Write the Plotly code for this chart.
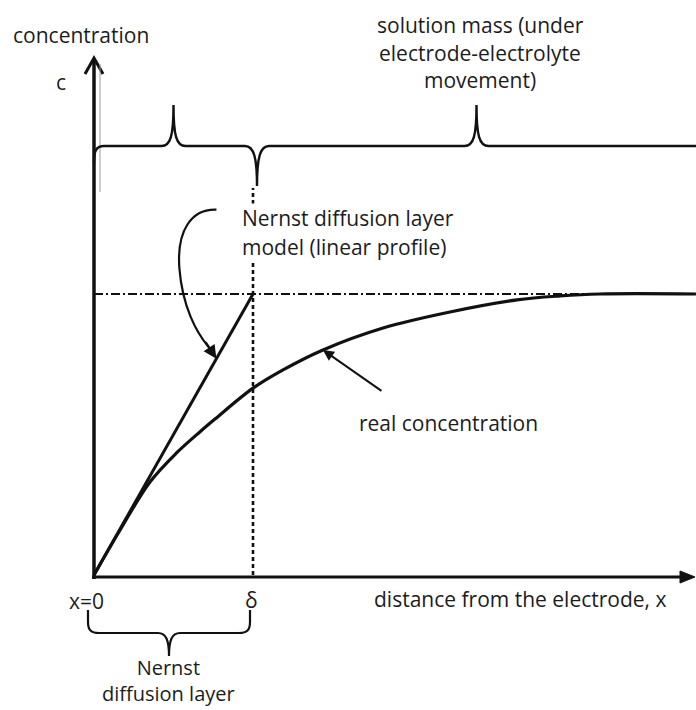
import plotly.graph_objects as go

# ---------------- data ----------------
distance = [0.0, 0.164, 0.352, 0.522, 0.667, 0.761, 1.0, 1.189, 1.44, 1.818, 2.239, 2.66, 2.931, 3.182, 3.786]
real_conc = [0.0, 0.160, 0.331, 0.436, 0.510, 0.555, 0.665, 0.730, 0.801, 0.879, 0.936, 0.979, 0.993, 1.0, 1.0]
linear_x = [0.0, 1.0]
linear_c = [0.0, 1.0]
delta = 1.0          # Nernst layer thickness
c_bulk = 1.0         # bulk concentration

# ---------------- geometry helpers (pixel <-> data) ----------------
W, H = 696, 710
X0_PX, Y0_PX = 94, 575     # pixel position of the origin
SX, SY = 159.0, 281.0      # pixels per data unit


def X(px):
    return (px - X0_PX) / SX


def Y(py):
    return (Y0_PX - py) / SY


def PX(x):
    return X0_PX + SX * x


def PY(c):
    return Y0_PX - SY * c


def path_px(cmds):
    """cmds: list of (letter, [(px,py),...]) -> svg path in data coords"""
    out = []
    for letter, pts in cmds:
        s = letter
        if pts:
            s += " " + " ".join(f"{X(p[0]):.5f},{Y(p[1]):.5f}" for p in pts)
        out.append(s)
    return " ".join(out)


INK = "#111111"
TXT = "#1c1c1c"
FONT = "Open Sans"
FS = 21

fig = go.Figure()

# real concentration profile
fig.add_trace(go.Scatter(x=distance, y=real_conc, mode="lines",
                         line=dict(color=INK, width=3.2, shape="spline", smoothing=1.0),
                         hoverinfo="skip"))
# Nernst linear profile
fig.add_trace(go.Scatter(x=linear_x, y=linear_c, mode="lines",
                         line=dict(color=INK, width=3), hoverinfo="skip"))

shapes = []
# y axis
shapes.append(dict(type="line", xref="x", yref="y", x0=0, x1=0, y0=Y(579), y1=Y(60),
                   line=dict(color=INK, width=3.5)))
shapes.append(dict(type="path", xref="x", yref="y",
                   path=path_px([("M", [(85, 74)]), ("L", [(94, 58)]), ("L", [(103, 74)])]),
                   line=dict(color=INK, width=3)))
# thin secondary line next to y axis
shapes.append(dict(type="line", xref="x", yref="y", x0=X(100), x1=X(100), y0=Y(192), y1=Y(64),
                   line=dict(color="#9a9a9a", width=1)))
# x axis
shapes.append(dict(type="line", xref="x", yref="y", x0=X(92), x1=X(684), y0=Y(577), y1=Y(577),
                   line=dict(color=INK, width=3)))
shapes.append(dict(type="path", xref="x", yref="y",
                   path=path_px([("M", [(680, 571)]), ("L", [(695, 577)]), ("L", [(680, 583)]), ("Z", [])]),
                   fillcolor=INK, line=dict(color=INK, width=1)))
# bulk concentration dashed line
shapes.append(dict(type="line", xref="x", yref="y", x0=0, x1=X(585), y0=c_bulk, y1=c_bulk,
                   line=dict(color=INK, width=1.8, dash="9px,3px,2px,3px")))
# delta dotted line
shapes.append(dict(type="line", xref="x", yref="y", x0=delta, x1=delta, y0=0, y1=Y(188),
                   line=dict(color=INK, width=2.6, dash="4px,3px")))

# top braces
xd = PX(delta)
x0 = PX(0)
xl_tip = PX(delta / 2)
xr_end = 700
xr_tip = (xd + xr_end) / 2
yb = 146
top = [("M", [(x0, 163)]), ("C", [(x0, 151), (x0 + 2, yb), (x0 + 10, yb)]),
       ("L", [(xl_tip - 12, yb)]),
       ("C", [(xl_tip - 3, yb), (xl_tip, 136), (xl_tip, 105)]),
       ("C", [(xl_tip, 136), (xl_tip + 3, yb), (xl_tip + 12, yb)]),
       ("L", [(xd - 8, yb)]),
       ("C", [(xd + 1, yb), (xd + 4, 158), (xd + 4, 186)]),
       ("C", [(xd + 4, 158), (xd + 7, yb), (xd + 16, yb)]),
       ("L", [(xr_tip - 12, yb)]),
       ("C", [(xr_tip - 3, yb), (xr_tip, 136), (xr_tip, 105)]),
       ("C", [(xr_tip, 136), (xr_tip + 3, yb), (xr_tip + 12, yb)]),
       ("L", [(xr_end, yb)])]
shapes.append(dict(type="path", xref="x", yref="y", path=path_px(top),
                   line=dict(color=INK, width=2.4)))

# bottom brace (Nernst diffusion layer)
bl, br, by = x0 - 6, xd - 3, 633
bm = (bl + br) / 2
bottom = [("M", [(bl, 610)]), ("L", [(bl, 622)]),
          ("C", [(bl, 630), (bl + 3, by), (bl + 11, by)]),
          ("L", [(bm - 11, by)]),
          ("C", [(bm - 3, by), (bm, 640), (bm, 656)]),
          ("C", [(bm, 640), (bm + 3, by), (bm + 11, by)]),
          ("L", [(br - 11, by)]),
          ("C", [(br - 3, by), (br, 630), (br, 622)]),
          ("L", [(br, 610)])]
shapes.append(dict(type="path", xref="x", yref="y", path=path_px(bottom),
                   line=dict(color=INK, width=2.2)))

# curved leader arrow to the linear profile
tip_x = 0.77
tip_c = linear_c[0] + (linear_c[1] - linear_c[0]) * tip_x / linear_x[1]
tx, ty = PX(tip_x), PY(tip_c)
curve_arrow = [("M", [(tx, ty - 149)]),
               ("C", [(tx - 25, ty - 150), (tx - 40, ty - 128), (tx - 37, ty - 90)]),
               ("C", [(tx - 34, ty - 52), (tx - 20, ty - 26), (tx - 8, ty - 12)])]
shapes.append(dict(type="path", xref="x", yref="y", path=path_px(curve_arrow),
                   line=dict(color=INK, width=2.2)))

annotations = []
annotations.append(dict(x=tip_x, y=tip_c, xref="x", yref="y", text="", showarrow=True,
                        ax=-12, ay=-18, arrowhead=2, arrowsize=1.1, arrowwidth=2.4,
                        arrowcolor=INK, standoff=0))
# straight arrow to the real concentration curve
i_rc = distance.index(1.44)
annotations.append(dict(x=distance[i_rc], y=real_conc[i_rc], xref="x", yref="y", text="",
                        showarrow=True, ax=60, ay=42, arrowhead=2, arrowsize=1.1,
                        arrowwidth=2, arrowcolor=INK, standoff=0))


def label(text, px, py, anchor="center", size=FS, bg=None, vanchor="middle"):
    d = dict(x=X(px), y=Y(py), xref="x", yref="y", text=text, showarrow=False,
             xanchor=anchor, yanchor=vanchor, font=dict(family=FONT, size=size, color=TXT))
    if bg:
        d["bgcolor"] = bg
        d["borderpad"] = 0
    annotations.append(d)


label("concentration", 81, 35)
label("c", 61, 82)
label("solution mass (under", 480, 25)
label("electrode-electrolyte", 480, 53)
label("movement)", 480, 80)
label("Nernst diffusion layer", 241, 218, anchor="left", bg="white")
label("model (linear profile)", 241, 247, anchor="left", bg="white")
label("real concentration", 357, 423, anchor="left")
label("x=0", 86, 601)
label("\u03b4", 251, 600)
label("distance from the electrode, x", 372, 599, anchor="left")
label("Nernst<br>diffusion layer", 168, 709, size=20, vanchor="bottom")

fig.update_layout(
    width=W, height=H,
    margin=dict(l=0, r=0, t=0, b=0),
    paper_bgcolor="white", plot_bgcolor="white",
    showlegend=False,
    xaxis=dict(range=[X(0), X(W)], visible=False, fixedrange=True),
    yaxis=dict(range=[Y(H), Y(0)], visible=False, fixedrange=True),
    shapes=shapes,
    annotations=annotations,
)

fig.write_html("out.html", config={"displayModeBar": False},
               post_script="document.body.style.margin='0';document.body.style.overflow='hidden';")
